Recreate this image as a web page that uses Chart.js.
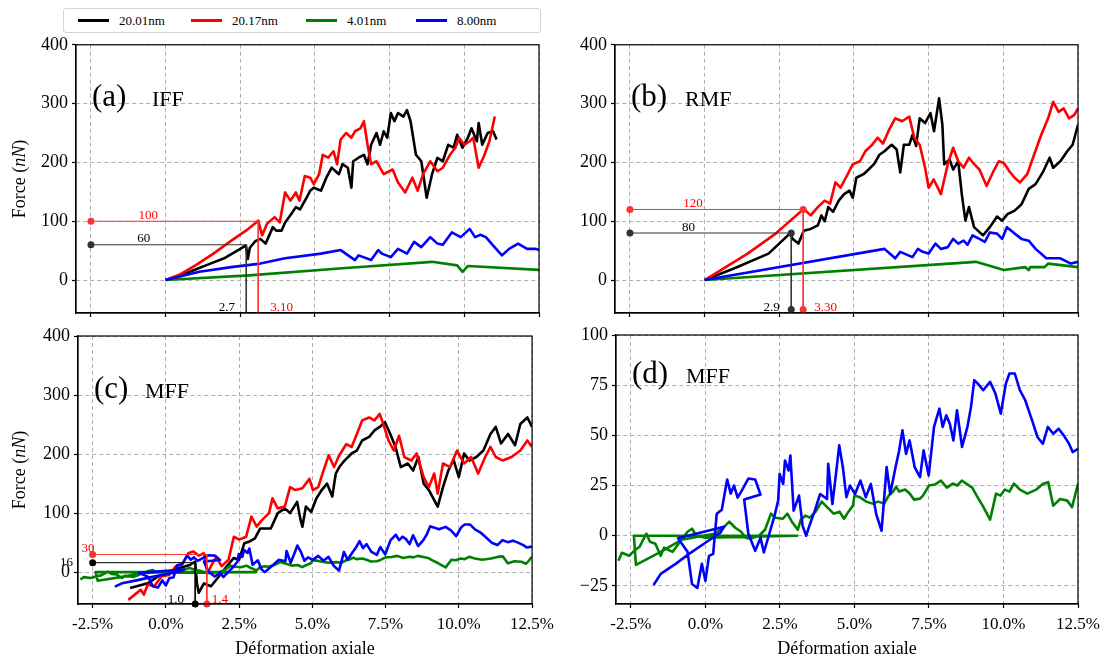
<!DOCTYPE html>
<html lang="fr">
<head>
<meta charset="utf-8">
<script src="https://cdn.jsdelivr.net/npm/chart.js@4.4.0/dist/chart.umd.min.js"></script>
<style>
  body { margin:0; background:#fff; width:1109px; height:660px; position:relative; overflow:hidden; font-family:"Liberation Serif", serif; }
  canvas { position:absolute; }
  #legend { position:absolute; left:63px; top:8px; width:476px; height:23px; border:1px solid #d3d3d3; border-radius:3px; }
  .item { position:absolute; top:0; height:23px; display:flex; align-items:center; font-size:13px; color:#000; }
  .swatch { width:31px; height:0; border-top:3px solid; margin-right:10px; }
</style>
</head>
<body>
<div id="legend"></div>
<canvas id="pa"></canvas>
<canvas id="pb"></canvas>
<canvas id="pc"></canvas>
<canvas id="pd"></canvas>
<script>
// series names + colours
const names  = ['20.01nm', '20.17nm', '4.01nm', '8.00nm'];
const colors = ['#000000', '#ff0000', '#008000', '#0000ff'];

// x ticks (strain, %) and force ticks
const xTicks = [-2.5, 0, 2.5, 5, 7.5, 10, 12.5];
const forceTicks = [0, 100, 200, 300, 400];
const zoomTicks = [-25, 0, 25, 50, 75, 100];

// (a) IFF  [strain %, force nN]
const iffBlack = [[0,0],[0.5,8],[1.0,18],[1.5,28],[2.0,38],[2.4,50],[2.69,59],[2.75,36],[2.82,55],[3.0,66],[3.17,70],[3.35,62],[3.59,90],[3.7,84],[3.88,84],[4.0,98],[4.2,112],[4.36,124],[4.5,120],[4.72,140],[4.84,152],[4.96,157],[5.2,152],[5.38,174],[5.56,191],[5.8,180],[5.92,197],[6.1,191],[6.22,157],[6.28,202],[6.46,208],[6.64,213],[6.76,197],[6.88,230],[7.06,250],[7.18,230],[7.3,253],[7.42,242],[7.54,284],[7.66,270],[7.78,284],[7.96,278],[8.08,289],[8.2,270],[8.38,213],[8.56,202],[8.74,140],[8.92,180],[9.1,208],[9.28,202],[9.46,230],[9.64,225],[9.76,247],[9.94,225],[10.12,242],[10.24,258],[10.42,236],[10.48,267],[10.6,230],[10.78,250],[10.96,253],[11.08,239]];
const iffRed = [[0,0],[0.5,10],[1.0,25],[1.6,45],[2.2,67],[2.69,84],[3.1,101],[3.23,76],[3.4,96],[3.65,107],[3.82,98],[4.0,149],[4.18,135],[4.36,149],[4.48,135],[4.66,177],[4.84,174],[4.96,163],[5.14,180],[5.26,213],[5.44,208],[5.62,219],[5.74,197],[5.86,239],[6.04,250],[6.22,242],[6.34,253],[6.52,258],[6.64,270],[6.76,230],[6.88,197],[7.06,202],[7.3,180],[7.6,188],[7.78,166],[8.02,149],[8.26,174],[8.44,152],[8.62,180],[8.86,202],[9.1,185],[9.28,191],[9.52,213],[9.7,225],[9.82,242],[10.0,230],[10.18,236],[10.3,242],[10.48,191],[10.66,211],[10.84,236],[11.02,278]];
const iffGreen = [[0,0],[2.8,8],[5.92,20],[8.92,31],[9.76,25],[9.94,14],[10.12,24],[12.6,17]];
const iffBlue = [[0,0],[1.13,14],[2.2,22],[3.17,28],[4.0,37],[5.2,45],[5.86,51],[6.34,34],[6.46,42],[6.88,34],[7.12,51],[7.24,45],[7.54,39],[7.78,53],[8.08,45],[8.32,65],[8.56,56],[8.86,73],[9.1,62],[9.28,60],[9.58,81],[9.88,73],[10.18,87],[10.36,73],[10.54,77],[10.72,73],[10.96,59],[11.26,42],[11.5,53],[11.8,62],[12.1,53],[12.4,53],[12.6,50]];
const iffMarks = [[2.7, 60], [3.10, 100]];

// (b) RMF
const rmfBlack = [[0,0],[1.0,20],[2.14,45],[2.85,79],[2.95,70],[3.14,62],[3.32,84],[3.55,87],[3.79,93],[3.91,110],[4.02,100],[4.14,124],[4.3,116],[4.49,135],[4.67,146],[4.85,152],[4.96,140],[5.08,174],[5.32,180],[5.49,188],[5.67,197],[5.85,213],[6.02,219],[6.26,230],[6.43,222],[6.55,183],[6.67,230],[6.85,230],[6.96,247],[7.08,228],[7.2,275],[7.38,267],[7.56,284],[7.68,253],[7.85,309],[7.96,264],[8.02,197],[8.2,205],[8.32,188],[8.49,202],[8.61,146],[8.73,101],[8.85,124],[9.02,90],[9.32,76],[9.55,90],[9.79,108],[9.96,101],[10.14,112],[10.38,118],[10.61,129],[10.85,155],[11.08,163],[11.32,183],[11.55,208],[11.67,191],[11.91,202],[12.14,219],[12.32,230],[12.5,264]];
const rmfRed = [[0,0],[1.44,45],[2.38,79],[3.32,121],[3.55,110],[3.79,124],[4.02,135],[4.2,130],[4.38,166],[4.55,157],[4.73,174],[4.96,197],[5.2,202],[5.38,219],[5.61,230],[5.79,242],[5.97,232],[6.2,258],[6.38,275],[6.61,270],[6.85,278],[7.02,242],[7.2,230],[7.38,191],[7.5,157],[7.67,171],[7.91,146],[8.14,197],[8.32,225],[8.49,202],[8.67,191],[8.85,208],[9.02,197],[9.2,188],[9.44,160],[9.67,185],[9.85,202],[10.02,199],[10.2,185],[10.38,174],[10.56,166],[10.8,180],[11.03,213],[11.27,247],[11.5,275],[11.67,303],[11.85,286],[12.02,292],[12.2,275],[12.38,281],[12.5,292]];
const rmfGreen = [[0,0],[9.08,31],[10.02,17],[10.73,22],[10.85,17],[10.9,22],[11.38,22],[11.5,28],[12.5,22]];
const rmfBlue = [[0,0],[6.02,53],[6.38,37],[6.55,48],[6.96,39],[7.14,53],[7.3,48],[7.5,45],[7.73,62],[7.91,53],[8.14,56],[8.32,70],[8.49,62],[8.67,67],[8.8,60],[8.97,76],[9.2,70],[9.38,65],[9.55,81],[9.79,79],[9.96,70],[10.12,90],[10.38,79],[10.61,70],[10.85,67],[11.08,53],[11.44,37],[11.91,37],[12.26,28],[12.5,31]];
const rmfMarks = [[2.9, 80], [3.30, 120]];

// (c) + (d) MFF
const mffBlack = [[-1.22,-27],[-0.62,-19],[-0.26,-7],[0.1,-2],[0.46,7],[0.82,12],[1.0,18],[1.06,-19],[1.12,-35],[1.3,-19],[1.54,-24],[1.72,-13],[1.9,-2],[2.08,10],[2.32,24],[2.5,21],[2.68,49],[2.86,52],[3.04,57],[3.22,74],[3.4,74],[3.58,74],[3.82,100],[4.06,108],[4.24,100],[4.48,119],[4.6,88],[4.66,77],[4.78,111],[4.96,102],[5.14,125],[5.32,139],[5.5,150],[5.68,128],[5.8,167],[5.92,178],[6.1,189],[6.34,201],[6.52,206],[6.7,223],[6.94,229],[7.12,240],[7.3,246],[7.48,254],[7.66,234],[7.84,212],[8.02,178],[8.26,184],[8.44,172],[8.62,195],[8.8,150],[8.98,139],[9.16,122],[9.28,111],[9.46,144],[9.64,172],[9.82,190],[10.0,161],[10.18,201],[10.36,189],[10.6,195],[10.84,206],[11.08,234],[11.26,246],[11.44,218],[11.68,234],[11.92,215],[12.1,251],[12.34,262],[12.5,246]];
const mffRed = [[-1.28,-47],[-0.86,-30],[-0.75,-38],[-0.62,-21],[-0.4,-24],[-0.14,-7],[0.1,-5],[0.34,10],[0.58,15],[0.76,32],[0.94,35],[1.12,28],[1.3,32],[1.42,-2],[1.54,10],[1.72,26],[1.9,10],[2.14,21],[2.32,60],[2.5,55],[2.74,60],[2.92,94],[3.1,77],[3.28,88],[3.52,100],[3.64,125],[3.82,108],[4.06,111],[4.24,144],[4.42,139],[4.66,142],[4.9,158],[5.02,139],[5.2,144],[5.38,172],[5.56,198],[5.74,178],[5.92,198],[6.16,217],[6.34,212],[6.52,234],[6.7,257],[6.94,262],[7.12,257],[7.3,268],[7.42,251],[7.6,223],[7.78,206],[7.96,231],[8.14,195],[8.38,189],[8.56,201],[8.8,161],[8.98,144],[9.16,167],[9.28,133],[9.46,184],[9.7,178],[9.94,206],[10.18,184],[10.42,195],[10.66,167],[10.9,195],[11.08,212],[11.26,195],[11.5,189],[11.8,195],[12.1,206],[12.34,223],[12.5,212]];
const mffGreen = [[-2.92,-12.5],[-2.8,-8.5],[-2.56,-10],[-2.39,-7.5],[-2.21,-5.5],[-2.09,-2],[-1.98,1],[-1.86,-3],[-1.68,-4],[-1.5,-10],[-1.39,-6],[-1.1,-8],[-0.9,-4],[-0.6,2],[-0.45,3.5],[-0.3,0],[0,-1],[3.08,0],[-2.4,0],[-2.33,-14.5],[-1.5,-8],[-0.8,-2],[0.3,1],[0.6,4],[0.8,7],[1.0,4],[1.2,2],[1.35,-1],[1.5,-1.5],[1.8,0],[2.0,3],[2.2,11],[2.35,9],[2.6,8.5],[2.75,11],[2.9,7],[3.1,3],[3.2,8],[3.35,10],[3.5,9],[3.7,12],[3.9,17],[4.1,14],[4.3,11],[4.5,12],[4.65,8.5],[4.8,12],[4.95,15],[5.0,20],[5.2,19],[5.4,17],[5.6,16],[5.8,17],[6.0,16],[6.15,20],[6.3,22],[6.4,24.5],[6.5,22],[6.7,23],[6.85,21],[7.0,18],[7.2,18.5],[7.3,20],[7.5,25],[7.7,25.5],[7.9,27.5],[8.1,24],[8.3,26],[8.45,25],[8.6,27.5],[8.75,26],[8.95,24],[9.1,20],[9.3,15],[9.55,8],[9.75,21],[9.9,20],[10.05,23],[10.2,22],[10.35,26],[10.55,23],[10.8,21],[11.1,23],[11.32,25.8],[11.5,26.7],[11.67,15],[11.9,18.3],[12.14,17.5],[12.3,14.2],[12.5,26]];
const mffBlue = [[-1.74,-24.5],[-1.5,-19],[-1.0,-14],[-0.5,-8.5],[0.0,-3.5],[0.5,1.5],[0.62,4.5],[-0.92,-1.2],[-0.6,-8],[-0.45,-24],[-0.27,-26],[-0.12,-14],[0.0,-22.5],[0.12,-10],[0.26,-9],[0.38,11],[0.55,13],[0.73,28],[0.85,21],[0.96,25],[1.08,19],[1.2,22],[1.44,28.5],[1.67,28],[1.85,20.5],[1.3,18],[1.44,1],[1.67,-7.5],[1.85,-1],[1.96,-8.3],[2.14,0.8],[2.32,10],[2.44,17.5],[2.49,30.8],[2.61,25.8],[2.67,37.5],[2.79,32.5],[2.85,40],[2.96,12.5],[3.14,20],[3.26,5],[3.38,0],[3.49,5],[3.67,12.5],[3.85,20.8],[4.08,18.3],[4.12,35.8],[4.26,15.8],[4.38,30.8],[4.49,45],[4.61,34.2],[4.73,19.2],[4.85,25],[5.02,20.8],[5.2,27.5],[5.38,19.2],[5.55,25.8],[5.73,10.8],[5.91,2.5],[6.08,34.2],[6.2,20.8],[6.38,34.2],[6.49,41.7],[6.61,52.5],[6.73,40.8],[6.85,47.5],[7.02,34.2],[7.2,29.2],[7.32,42.5],[7.49,30],[7.67,54.2],[7.85,63.3],[7.96,54.2],[8.08,60],[8.2,55.8],[8.32,47.5],[8.44,62.5],[8.61,44.2],[8.79,54.2],[8.91,64.2],[9.02,77.5],[9.14,75.8],[9.32,72.5],[9.55,76.7],[9.73,70.8],[9.91,60.8],[10.08,75.8],[10.2,80.8],[10.38,80.8],[10.55,72.5],[10.73,67.5],[10.96,57.5],[11.14,49.2],[11.32,45.8],[11.49,54.2],[11.67,50.8],[11.85,53.3],[12.02,50],[12.2,45.8],[12.32,41.7],[12.5,43.3]];
const mffMarks = [[1.0, 16], [1.4, 30]];

const FONT = "'Liberation Serif', serif";
Chart.defaults.font.family = FONT;

// legend (html)
const leg = document.getElementById('legend');
const legX = [14, 127, 242, 352];
names.forEach((n, i) => {
  const it = document.createElement('div');
  it.className = 'item';
  it.style.left = legX[i] + 'px';
  it.innerHTML = '<span class="swatch" style="border-color:' + colors[i] + '"></span>' + n;
  leg.appendChild(it);
});

const pts = arr => arr.map(p => ({x: p[0], y: p[1]}));

function curve(arr, i) {
  return { data: pts(arr), showLine: true, borderColor: colors[i], borderWidth: 2.6,
           pointRadius: 0, order: 4 - i, borderJoinStyle: 'round' };
}

// guide lines: dot on the left, horizontal to the curve, then down to the axis
function guide(mark, col, yBottom, dots) {
  return { data: pts([[-2.5, mark[1]], [mark[0], mark[1]], [mark[0], yBottom]]), showLine: true,
           borderColor: col, borderWidth: 1, pointRadius: dots, pointBackgroundColor: col,
           pointBorderWidth: 0, order: 0, clip: 6 };
}

const deco = {
  id: 'deco',
  afterDraw(chart, args, o) {
    const {ctx, chartArea: a} = chart;
    const sx = chart.scales.x, sy = chart.scales.y;
    ctx.save();
    ctx.strokeStyle = '#000'; ctx.lineWidth = 1.2;
    ctx.strokeRect(a.left, a.top, a.right - a.left, a.bottom - a.top);
    ctx.fillStyle = '#000'; ctx.textAlign = 'left'; ctx.textBaseline = 'alphabetic';
    ctx.font = '31px ' + FONT;
    ctx.fillText(o.tag, a.left + 16, a.top + o.tagY);
    ctx.font = '22px ' + FONT;
    ctx.fillText(o.name, a.left + o.nameX, a.top + o.tagY);
    ctx.font = '13px ' + FONT; ctx.textAlign = 'center';
    o.notes.forEach(n => {
      ctx.fillStyle = n[3];
      ctx.fillText(n[0], sx.getPixelForValue(n[1]), sy.getPixelForValue(n[2]));
    });
    ctx.fillStyle = '#000';
    if (o.yTitle) {
      const p1 = 'Force (', p2 = 'nN', p3 = ')';
      ctx.font = '18px ' + FONT; const w1 = ctx.measureText(p1).width, w3 = ctx.measureText(p3).width;
      ctx.font = 'italic 18px ' + FONT; const w2 = ctx.measureText(p2).width;
      const tot = w1 + w2 + w3;
      ctx.translate(20, (a.top + a.bottom) / 2); ctx.rotate(-Math.PI / 2);
      ctx.textAlign = 'left'; ctx.textBaseline = 'middle';
      ctx.font = '18px ' + FONT; ctx.fillText(p1, -tot / 2, 0);
      ctx.font = 'italic 18px ' + FONT; ctx.fillText(p2, -tot / 2 + w1, 0);
      ctx.font = '18px ' + FONT; ctx.fillText(p3, -tot / 2 + w1 + w2, 0);
      ctx.setTransform(1, 0, 0, 1, 0, 0);
    }
    if (o.xTitle) {
      ctx.font = '18px ' + FONT; ctx.textAlign = 'center'; ctx.textBaseline = 'alphabetic';
      ctx.fillText('Déformation axiale', (a.left + a.right) / 2, a.bottom + 50);
    }
    ctx.restore();
  }
};

function panel(id, rect, area, yMin, yMax, yTicks, sets, o) {
  const cv = document.getElementById(id);
  cv.style.left = rect[0] + 'px'; cv.style.top = rect[1] + 'px';
  cv.width = rect[2]; cv.height = rect[3];
  cv.style.width = rect[2] + 'px'; cv.style.height = rect[3] + 'px';
  const gridOpts = { color: '#b0b0b0', lineWidth: 1, tickColor: '#000', tickLength: 4, tickWidth: 1.2 };
  const borderOpts = { display: true, color: '#000', width: 1.2, dash: [4, 3] };
  new Chart(cv, {
    type: 'scatter',
    data: { datasets: sets },
    options: {
      responsive: false, animation: false, events: [],
      layout: { autoPadding: false, padding: { left: 0, bottom: 0, top: area[1] - rect[1], right: rect[0] + rect[2] - area[2] } },
      plugins: { legend: { display: false }, tooltip: { enabled: false }, deco: o },
      scales: {
        x: {
          type: 'linear', min: -3, max: 12.5,
          afterBuildTicks: s => { s.ticks = xTicks.map(v => ({value: v})); },
          afterFit: s => { s.height = rect[1] + rect[3] - area[3]; },
          ticks: { display: o.xLabels, color: '#000', font: { size: 17 }, padding: 6, maxRotation: 0, autoSkip: false,
                   callback: v => v.toFixed(1) + '%' },
          grid: gridOpts, border: borderOpts
        },
        y: {
          type: 'linear', min: yMin, max: yMax,
          afterBuildTicks: s => { s.ticks = yTicks.map(v => ({value: v})); },
          afterFit: s => { s.width = area[0] - rect[0]; },
          ticks: { color: '#000', font: { size: 18 }, padding: 4,
                   callback: v => v < 0 ? '\u2212' + (-v) : String(v) },
          grid: gridOpts, border: borderOpts
        }
      }
    },
    plugins: [deco]
  });
}

panel('pa', [0, 30, 560, 300], [76, 43, 539, 313], -56, 400, forceTicks, [
  guide(iffMarks[0], '#333', -56, [3.5, 0, 0]), guide(iffMarks[1], '#ff3030', -56, [3.5, 0, 0]),
  curve(iffBlack, 0), curve(iffRed, 1), curve(iffGreen, 2), curve(iffBlue, 3)
], { tag: '(a)', name: 'IFF', tagY: 61, nameX: 76, yTitle: true, xTitle: false, xLabels: false,
     notes: [['100', -0.58, 104, '#ff0000'], ['60', -0.73, 64, '#000'], ['2.7', 2.05, -52, '#000'], ['3.10', 3.88, -52, '#ff0000']] });

panel('pb', [560, 30, 549, 300], [615, 43, 1078, 313], -56, 400, forceTicks, [
  guide(rmfMarks[0], '#333', -50, 3.5), guide(rmfMarks[1], '#ff3030', -50, 3.5),
  curve(rmfBlack, 0), curve(rmfRed, 1), curve(rmfGreen, 2), curve(rmfBlue, 3)
], { tag: '(b)', name: 'RMF', tagY: 61, nameX: 70, yTitle: false, xTitle: false, xLabels: false,
     notes: [['120', -0.39, 124, '#ff0000'], ['80', -0.54, 84, '#000'], ['2.9', 2.24, -52, '#000'], ['3.30', 4.05, -52, '#ff0000']] });

panel('pc', [0, 318, 560, 342], [78, 336, 541, 604], -54, 400, forceTicks, [
  guide(mffMarks[0], '#000', -54, [3.5, 0, 3.5]), guide(mffMarks[1], '#ff3030', -54, [3.5, 0, 3.5]),
  curve(mffBlack, 0), curve(mffRed, 1), curve(mffGreen, 2), curve(mffBlue, 3)
], { tag: '(c)', name: 'MFF', tagY: 62, nameX: 67, yTitle: true, xTitle: true, xLabels: true,
     notes: [['30', -2.66, 34, '#ff0000'], ['16', -3.39, 11, '#000'], ['1.0', 0.34, -52, '#000'], ['1.4', 1.84, -52, '#ff0000']] });

panel('pd', [560, 318, 549, 342], [616, 335, 1078, 604], -34, 100, zoomTicks, [
  curve(mffGreen, 2), curve(mffBlue, 3)
], { tag: '(d)', name: 'MFF', tagY: 48, nameX: 70, yTitle: false, xTitle: true, xLabels: true, notes: [] });
</script>
</body>
</html>
